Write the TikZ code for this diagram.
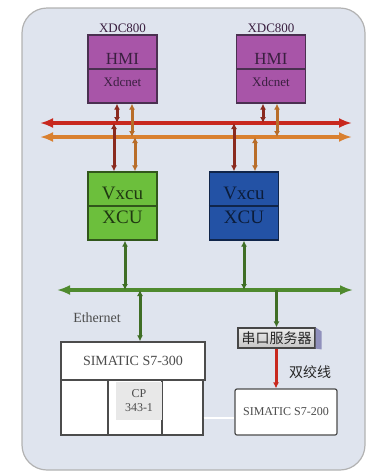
\documentclass[tikz,border=0pt]{standalone}
\usepackage{fontspec}
\setmainfont{Liberation Serif}
\newfontfamily\cjk{Noto Sans CJK SC}
\usetikzlibrary{calc,arrows.meta}

\definecolor{fondo}{HTML}{DFE4EE}
\definecolor{hmifill}{HTML}{A855A8}
\definecolor{hmiborde}{HTML}{4A3050}
\definecolor{hmitexto}{HTML}{3A1F40}
\definecolor{xcuverde}{HTML}{6CBF3C}
\definecolor{xcuazul}{HTML}{2352A5}
\definecolor{rojobus}{HTML}{C8281E}
\definecolor{naranja}{HTML}{D98030}
\definecolor{rojooscuro}{HTML}{8A2A1E}
\definecolor{verdebus}{HTML}{4F8A2E}

\begin{document}
\begin{tikzpicture}[x=1pt,y=-1pt,line width=0.9pt,>={Latex[length=6pt,width=6pt]},
  caja/.style={minimum width=69pt,minimum height=68pt,inner sep=0pt,line width=1.3pt},
  bus/.style={line width=4.5pt,{Latex[length=13pt,width=10pt]}-{Latex[length=13pt,width=10pt]}},
  enlace/.style={line width=3pt},
  texto/.style={font=\fontsize{#1}{#1}\selectfont,inner sep=1pt}]
  \useasboundingbox (0,0) rectangle (367,472);
  % panel de fondo
  \draw[fill=fondo,draw=gray!60,line width=1.2pt,rounded corners=25pt] (22,8) rectangle (365,470);
  % estaciones HMI
  \node[caja,draw=hmiborde,fill=hmifill] (hmiL) at (122.5,69) {};
  \node[caja,draw=hmiborde,fill=hmifill] (hmiR) at (271,69) {};
  \draw[hmiborde,line width=1.3pt] (hmiL.west) -- (hmiL.east);
  \draw[hmiborde,line width=1.3pt] (hmiR.west) -- (hmiR.east);
  \node[texto=13,anchor=south,text=hmitexto] (xdcL) at (hmiL.north) {XDC800};
  \node[texto=13,anchor=south,text=hmitexto] (xdcR) at (hmiR.north) {XDC800};
  \node[texto=17,text=hmitexto] (hmiLa) at ($(hmiL.center)+(0,-10)$) {HMI};
  \node[texto=13,text=hmitexto] (hmiLb) at ($(hmiL.center)+(0,13)$) {Xdcnet};
  \node[texto=17,text=hmitexto] (hmiRa) at ($(hmiR.center)+(0,-10)$) {HMI};
  \node[texto=13,text=hmitexto] (hmiRb) at ($(hmiR.center)+(0,13)$) {Xdcnet};
  % controladores XCU
  \node[caja,draw=xcuverde!45!black,fill=xcuverde] (xcuL) at (122.5,206) {};
  \node[caja,draw=xcuazul!45!black,fill=xcuazul] (xcuR) at (244,206) {};
  \draw[xcuverde!45!black,line width=1.3pt] (xcuL.west) -- (xcuL.east);
  \draw[xcuazul!45!black,line width=1.3pt] (xcuR.west) -- (xcuR.east);
  \node[texto=19,text=xcuverde!30!black] (xcuLa) at ($(xcuL.center)+(0,-13)$) {Vxcu};
  \node[texto=19,text=xcuverde!30!black] (xcuLb) at ($(xcuL.center)+(0,11)$) {XCU};
  \node[texto=19,text=xcuazul!35!black] (xcuRa) at ($(xcuR.center)+(0,-13)$) {Vxcu};
  \node[texto=19,text=xcuazul!35!black] (xcuRb) at ($(xcuR.center)+(0,11)$) {XCU};
  % buses
  \coordinate (rojoI) at (40,123); \coordinate (rojoD) at (352,123);
  \coordinate (narI) at (40,137); \coordinate (narD) at (352,137);
  \coordinate (verdeI) at (57,290); \coordinate (verdeD) at (353,290);
  \draw[bus,rojobus] (rojoI) -- (rojoD);
  \draw[bus,naranja] (narI) -- (narD);
  \draw[bus,verdebus] (verdeI) -- (verdeD);
  % HMI a los buses
  \draw[enlace,<->,rojooscuro] ([xshift=-5.5pt]hmiL.south) -- ([xshift=-5.5pt]hmiL.south |- rojoI);
  \draw[enlace,<->,naranja!85!black] ([xshift=9.5pt]hmiL.south) -- ([xshift=9.5pt]hmiL.south |- narI);
  \draw[enlace,<->,rojooscuro] ([xshift=-8pt]hmiR.south) -- ([xshift=-8pt]hmiR.south |- rojoI);
  \draw[enlace,<->,naranja!85!black] ([xshift=6pt]hmiR.south) -- ([xshift=6pt]hmiR.south |- narI);
  % buses a los XCU
  \draw[enlace,<->,rojooscuro] ([xshift=-8.5pt]xcuL.north |- rojoI) -- ([xshift=-8.5pt]xcuL.north);
  \draw[enlace,<->,naranja!85!black] ([xshift=12.5pt]xcuL.north |- narI) -- ([xshift=12.5pt]xcuL.north);
  \draw[enlace,<->,rojooscuro] ([xshift=-10pt]xcuR.north |- rojoI) -- ([xshift=-10pt]xcuR.north);
  \draw[enlace,<->,naranja!85!black] ([xshift=11pt]xcuR.north |- narI) -- ([xshift=11pt]xcuR.north);
  % XCU al bus Ethernet
  \draw[enlace,<->,verdebus!80!black] ([xshift=2.5pt]xcuL.south) -- ([xshift=2.5pt]xcuL.south |- verdeI);
  \draw[enlace,<->,verdebus!80!black] (xcuR.south) -- (xcuR.south |- verdeI);
  \node[texto=14,text=gray!60!black] (eth) at (97,318) {Ethernet};
  % rack S7-300
  \node[draw=gray!60!black,fill=white,line width=1.4pt,minimum width=144pt,minimum height=38pt,
    inner sep=0pt,texto=14,text=gray!60!black] (s300) at (133,361) {SIMATIC S7-300};
  \node[draw=gray!60!black,fill=white,line width=1.2pt,minimum width=47pt,minimum height=55pt] (mod1) at (84.5,407.5) {};
  \node[draw=gray!60!black,fill=white,line width=1.2pt,minimum width=54pt,minimum height=55pt] (mod2) at (135,407.5) {};
  \node[draw=gray!60!black,fill=white,line width=1.2pt,minimum width=41pt,minimum height=55pt] (mod3) at (182.5,407.5) {};
  \node[fill=gray!18,minimum width=46pt,minimum height=38pt,align=center,texto=12,text=gray!60!black] (cp) at (139,401) {CP\\[2pt]343-1};
  \draw[enlace,<->,verdebus!80!black] ([xshift=7pt]s300.north |- verdeI) -- ([xshift=7pt]s300.north);
  % servidor serie y S7-200
  \node[draw=gray!55!black,top color=gray!15,bottom color=gray!45,minimum width=77pt,minimum height=20pt,
    inner sep=0pt,line width=1.2pt,font=\cjk\fontsize{14}{14}\selectfont,text=gray!30!black] (ser) at (276.5,338) {串口服务器};
  \fill[blue!25!gray!70] (ser.north east) -- ++(6,4) -- ++(0,18) -- (ser.south east) -- cycle;
  \node[draw=gray!60!black,fill=white,line width=1.2pt,rounded corners=2pt,minimum width=102pt,minimum height=46pt,
    texto=12,text=gray!60!black] (s200) at (286,412) {SIMATIC S7-200};
  \draw[enlace,->,verdebus!80!black] (ser.north |- verdeI) -- (ser.north);
  \draw[enlace,->,rojobus] ([xshift=-0.5pt]ser.south) -- ([xshift=-0.5pt]ser.south |- s200.north);
  \node[font=\cjk\fontsize{14}{14}\selectfont,text=gray!30!black] (tp) at (310,372) {双绞线};
  \draw[white,line width=2pt] ([yshift=-10pt]mod3.east) -- ([yshift=-10pt]mod3.east -| s200.west);
\end{tikzpicture}
\end{document}
